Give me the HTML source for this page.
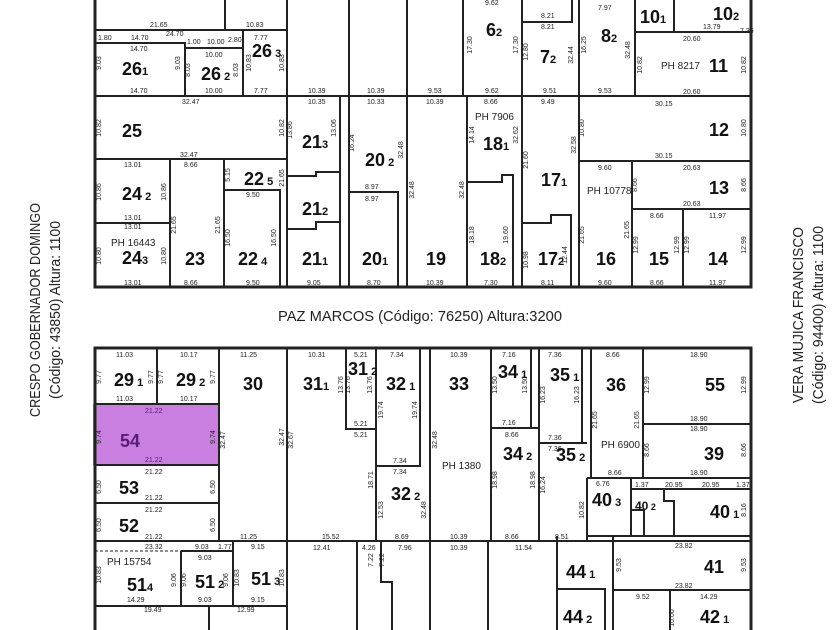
<!DOCTYPE html>
<html><head><meta charset="utf-8"><style>
html,body{margin:0;padding:0;background:#fff;}
svg{display:block;}
.b{font-family:"Liberation Sans",sans-serif;font-weight:bold;font-size:18px;fill:#111;}
.s{font-family:"Liberation Sans",sans-serif;font-size:7px;fill:#222;}
.v text{font-family:"Liberation Sans",sans-serif;font-size:7px;fill:#222;text-anchor:middle;}
.m{font-family:"Liberation Sans",sans-serif;font-size:10px;fill:#222;}
.st{font-family:"Liberation Sans",sans-serif;font-size:15px;fill:#222;}
</style></head><body>
<svg width="840" height="630" viewBox="0 0 840 630" xmlns="http://www.w3.org/2000/svg">
<rect x="93" y="404" width="126" height="61" fill="#c97fe0"/>
<g stroke="#222" stroke-width="2" fill="none">
<path d="M95 0 V287 H751 V0" stroke-width="3"/>
<path d="M95 30 H287 M225 0 V30 M95 96 H751"/>
<path d="M95 43 H185 V96 M185 48 H243 M243 30 V96"/>
<path d="M287 0 V287 M349 0 V287 M407 0 V287 M463 0 V97 M467 97 V287"/>
<path d="M95 159 H287 M170 159 V287 M95 223 H170 M224 159 V287 M224 190 H280 V287"/>
<path d="M287 176 H316 V172 H340 M287 229 H316 V222 H340 M340 96 V287"/>
<path d="M349 192 H398 V287"/>
<path d="M522 0 V287 M522 22 H572 V0 M579 0 V287 M635 0 V97 M674 0 V32 M635 32 H751"/>
<path d="M467 182 H502 V175 H513 V287"/>
<path d="M522 223 H551 V215 H571 V287"/>
<path d="M579 161 H751 M632 161 V287 M632 209 H751 M683 209 V287"/>
<path d="M95 630 V348 H751 V630" stroke-width="3"/>
<path d="M157 348 V404 M219 348 V541 M95 404 H219 M95 465 H219 M95 503 H219 M95 541 H751"/>
<path d="M287 348 V630 M346 348 V429 H376 M376 348 V541 M420 348 V466 H376 M430 348 V630"/>
<path d="M491 348 V541 M491 428 H539 M531 348 V428 M539 348 V541 M539 443 H587 M582 348 V443 M591 348 V478 M587 478 V541"/>
<path d="M643 348 V478 M643 424 H751 M587 478 H751 M631 489 H751 M631 478 V536 M587 536 H751"/>
<path d="M631 510 H644 V536 M664 489 V501 H674 V536"/>
<path d="M181 551 V606 M233 541 V606 M181 551 H233 M95 606 H287 M209 606 V630"/>
<path d="M357 541 V630 M381 541 V582 H392 V630 M488 541 V630 M557 536 V630 M557 589 H605 V630 M613 536 V630 M613 590 H751 M670 590 V630"/>
</g>
<path d="M95 551 H181" stroke="#222" stroke-width="1" stroke-dasharray="3,2"/>

<g class="b">
<text x="122" y="75">26<tspan font-size="11">1</tspan></text>
<text x="201" y="80">26<tspan font-size="11"> 2</tspan></text>
<text x="252" y="57">26<tspan font-size="11"> 3</tspan></text>
<text x="122" y="137">25</text>
<text x="122" y="200">24<tspan font-size="11"> 2</tspan></text>
<text x="122" y="264">24<tspan font-size="11">3</tspan></text>
<text x="185" y="265">23</text>
<text x="244" y="185">22<tspan font-size="11"> 5</tspan></text>
<text x="238" y="265">22<tspan font-size="11"> 4</tspan></text>
<text x="302" y="148">21<tspan font-size="11">3</tspan></text>
<text x="302" y="215">21<tspan font-size="11">2</tspan></text>
<text x="302" y="265">21<tspan font-size="11">1</tspan></text>
<text x="365" y="166">20<tspan font-size="11"> 2</tspan></text>
<text x="362" y="265">20<tspan font-size="11">1</tspan></text>
<text x="426" y="265">19</text>
<text x="486" y="36">6<tspan font-size="11">2</tspan></text>
<text x="540" y="63">7<tspan font-size="11">2</tspan></text>
<text x="601" y="42">8<tspan font-size="11">2</tspan></text>
<text x="640" y="23">10<tspan font-size="11">1</tspan></text>
<text x="713" y="20">10<tspan font-size="11">2</tspan></text>
<text x="709" y="72">11</text>
<text x="483" y="150">18<tspan font-size="11">1</tspan></text>
<text x="480" y="265">18<tspan font-size="11">2</tspan></text>
<text x="541" y="186">17<tspan font-size="11">1</tspan></text>
<text x="538" y="265">17<tspan font-size="11">2</tspan></text>
<text x="596" y="265">16</text>
<text x="709" y="136">12</text>
<text x="709" y="194">13</text>
<text x="649" y="265">15</text>
<text x="708" y="265">14</text>
<text x="114" y="386">29<tspan font-size="11"> 1</tspan></text>
<text x="176" y="386">29<tspan font-size="11"> 2</tspan></text>
<text x="243" y="390">30</text>
<text x="303" y="390">31<tspan font-size="11">1</tspan></text>
<text x="348" y="375">31<tspan font-size="11"> 2</tspan></text>
<text x="386" y="390">32<tspan font-size="11"> 1</tspan></text>
<text x="449" y="390">33</text>
<text x="120" y="447" fill="#5a1a75">54</text>
<text x="119" y="494">53</text>
<text x="119" y="532">52</text>
<text x="391" y="500">32<tspan font-size="11"> 2</tspan></text>
<text x="498" y="378">34<tspan font-size="11"> 1</tspan></text>
<text x="503" y="460">34<tspan font-size="11"> 2</tspan></text>
<text x="550" y="381">35<tspan font-size="11"> 1</tspan></text>
<text x="556" y="461">35<tspan font-size="11"> 2</tspan></text>
<text x="606" y="391">36</text>
<text x="705" y="391">55</text>
<text x="704" y="460">39</text>
<text x="592" y="506">40<tspan font-size="11"> 3</tspan></text>
<text x="635" y="510" font-size="12">40<tspan font-size="9"> 2</tspan></text>
<text x="710" y="518">40<tspan font-size="11"> 1</tspan></text>
<text x="704" y="573">41</text>
<text x="566" y="578">44<tspan font-size="11"> 1</tspan></text>
<text x="563" y="623">44<tspan font-size="11"> 2</tspan></text>
<text x="700" y="623">42<tspan font-size="11"> 1</tspan></text>
<text x="127" y="591">51<tspan font-size="11">4</tspan></text>
<text x="195" y="588">51<tspan font-size="11"> 2</tspan></text>
<text x="251" y="585">51<tspan font-size="11"> 3</tspan></text>
</g>
<g class="m">
<text x="111" y="246">PH 16443</text>
<text x="475" y="120">PH 7906</text>
<text x="661" y="69">PH 8217</text>
<text x="587" y="194">PH 10778</text>
<text x="442" y="469">PH 1380</text>
<text x="601" y="448">PH 6900</text>
<text x="107" y="565">PH 15754</text>
</g>
<g class="s">
<text x="150" y="27">21.65</text><text x="246" y="27">10.83</text>
<text x="98" y="40">1.80</text><text x="131" y="40">14.70</text><text x="166" y="36">24.70</text><text x="187" y="44">1.00</text><text x="207" y="44">10.00</text><text x="228" y="42">2.80</text><text x="254" y="40">7.77</text>
<text x="130" y="51">14.70</text><text x="205" y="57">10.00</text>
<text x="130" y="93">14.70</text><text x="205" y="93">10.00</text><text x="254" y="93">7.77</text>
<text x="308" y="93">10.39</text><text x="367" y="93">10.39</text><text x="428" y="93">9.53</text>
<text x="308" y="104">10.35</text><text x="367" y="104">10.33</text><text x="426" y="104">10.39</text>
<text x="182" y="104">32.47</text><text x="180" y="157">32.47</text>
<text x="124" y="167">13.01</text><text x="184" y="167">8.66</text><text x="124" y="220">13.01</text><text x="124" y="229">13.01</text>
<text x="124" y="285">13.01</text><text x="184" y="285">8.66</text><text x="246" y="197">9.50</text><text x="246" y="285">9.50</text>
<text x="307" y="285">9.05</text><text x="367" y="285">8.70</text><text x="426" y="285">10.39</text>
<text x="365" y="189">8.97</text><text x="365" y="201">8.97</text>
<text x="485" y="5">9.62</text><text x="485" y="93">9.62</text><text x="541" y="29">8.21</text><text x="541" y="18">8.21</text><text x="543" y="93">9.51</text><text x="598" y="93">9.53</text><text x="598" y="10">7.97</text>
<text x="683" y="41">20.60</text><text x="683" y="94">20.60</text><text x="703" y="29">13.79</text>
<text x="484" y="104">8.66</text><text x="541" y="104">9.49</text><text x="655" y="106">30.15</text><text x="655" y="158">30.15</text>
<text x="598" y="170">9.60</text><text x="683" y="170">20.63</text><text x="683" y="206">20.63</text>
<text x="650" y="218">8.66</text><text x="709" y="218">11.97</text>
<text x="484" y="285">7.30</text><text x="541" y="285">8.11</text><text x="598" y="285">9.60</text><text x="650" y="285">8.66</text><text x="709" y="285">11.97</text>
<text x="116" y="357">11.03</text><text x="180" y="357">10.17</text><text x="240" y="357">11.25</text><text x="308" y="357">10.31</text><text x="354" y="357">5.21</text><text x="390" y="357">7.34</text><text x="450" y="357">10.39</text>
<text x="116" y="401">11.03</text><text x="180" y="401">10.17</text>
<text x="145" y="413" fill="#5a1a75">21.22</text><text x="145" y="462" fill="#5a1a75">21.22</text>
<text x="145" y="474">21.22</text><text x="145" y="500">21.22</text><text x="145" y="512">21.22</text><text x="145" y="539">21.22</text>
<text x="240" y="539">11.25</text><text x="322" y="539">15.52</text><text x="395" y="539">8.69</text><text x="450" y="539">10.39</text>
<text x="354" y="426">5.21</text><text x="354" y="437">5.21</text><text x="393" y="463">7.34</text><text x="393" y="474">7.34</text>
<text x="502" y="357">7.16</text><text x="548" y="357">7.36</text><text x="606" y="357">8.66</text><text x="690" y="357">18.90</text>
<text x="502" y="425">7.16</text><text x="505" y="437">8.66</text><text x="548" y="440">7.36</text><text x="548" y="451">7.36</text>
<text x="690" y="421">18.90</text><text x="690" y="431">18.90</text><text x="690" y="475">18.90</text><text x="608" y="475">8.66</text>
<text x="505" y="539">8.66</text><text x="555" y="539">8.51</text>
<text x="313" y="550">12.41</text><text x="362" y="550">4.26</text><text x="398" y="550">7.96</text><text x="450" y="550">10.39</text><text x="515" y="550">11.54</text>
<text x="675" y="548">23.82</text><text x="675" y="588">23.82</text><text x="636" y="599">9.52</text><text x="700" y="599">14.29</text>
<text x="145" y="549">23.32</text><text x="195" y="549">9.03</text><text x="218" y="549">1.77</text><text x="251" y="549">9.15</text>
<text x="198" y="560">9.03</text><text x="127" y="602">14.29</text><text x="198" y="602">9.03</text><text x="251" y="602">9.15</text>
<text x="144" y="612">19.49</text><text x="237" y="612">12.99</text>
<text x="596" y="486">6.76</text><text x="635" y="487">1.37</text><text x="665" y="487">20.95</text><text x="702" y="487">20.95</text><text x="736" y="487">1.37</text>
<text x="740" y="33">7.36</text>
</g>
<g class="v">
<text transform="translate(101,63) rotate(-90)">9.03</text>
<text transform="translate(180,63) rotate(-90)">9.03</text>
<text transform="translate(190,70) rotate(-90)">8.03</text>
<text transform="translate(238,70) rotate(-90)">8.03</text>
<text transform="translate(251,63) rotate(-90)">10.83</text>
<text transform="translate(284,63) rotate(-90)">10.83</text>
<text transform="translate(101,128) rotate(-90)">10.82</text>
<text transform="translate(284,128) rotate(-90)">10.82</text>
<text transform="translate(101,192) rotate(-90)">10.86</text>
<text transform="translate(166,192) rotate(-90)">10.86</text>
<text transform="translate(101,256) rotate(-90)">10.80</text>
<text transform="translate(166,256) rotate(-90)">10.80</text>
<text transform="translate(176,225) rotate(-90)">21.65</text>
<text transform="translate(220,225) rotate(-90)">21.65</text>
<text transform="translate(230,175) rotate(-90)">5.15</text>
<text transform="translate(284,178) rotate(-90)">21.65</text>
<text transform="translate(230,238) rotate(-90)">16.50</text>
<text transform="translate(276,238) rotate(-90)">16.50</text>
<text transform="translate(292,130) rotate(-90)">13.86</text>
<text transform="translate(336,128) rotate(-90)">13.06</text>
<text transform="translate(354,143) rotate(-90)">16.24</text>
<text transform="translate(403,150) rotate(-90)">32.48</text>
<text transform="translate(414,190) rotate(-90)">32.48</text>
<text transform="translate(464,190) rotate(-90)">32.48</text>
<text transform="translate(472,45) rotate(-90)">17.30</text>
<text transform="translate(518,45) rotate(-90)">17.30</text>
<text transform="translate(474,135) rotate(-90)">14.14</text>
<text transform="translate(518,135) rotate(-90)">32.62</text>
<text transform="translate(474,235) rotate(-90)">18.18</text>
<text transform="translate(508,235) rotate(-90)">19.60</text>
<text transform="translate(528,160) rotate(-90)">21.60</text>
<text transform="translate(576,145) rotate(-90)">32.58</text>
<text transform="translate(528,52) rotate(-90)">12.80</text>
<text transform="translate(573,55) rotate(-90)">32.44</text>
<text transform="translate(586,45) rotate(-90)">16.25</text>
<text transform="translate(630,50) rotate(-90)">32.48</text>
<text transform="translate(642,65) rotate(-90)">10.82</text>
<text transform="translate(746,65) rotate(-90)">10.82</text>
<text transform="translate(584,128) rotate(-90)">10.80</text>
<text transform="translate(746,128) rotate(-90)">10.80</text>
<text transform="translate(584,235) rotate(-90)">21.65</text>
<text transform="translate(629,230) rotate(-90)">21.65</text>
<text transform="translate(637,185) rotate(-90)">8.66</text>
<text transform="translate(746,185) rotate(-90)">8.66</text>
<text transform="translate(638,245) rotate(-90)">12.99</text>
<text transform="translate(679,245) rotate(-90)">12.99</text>
<text transform="translate(689,245) rotate(-90)">12.99</text>
<text transform="translate(746,245) rotate(-90)">12.99</text>
<text transform="translate(528,260) rotate(-90)">10.98</text>
<text transform="translate(567,255) rotate(-90)">12.44</text>
<text transform="translate(101,377) rotate(-90)">9.77</text>
<text transform="translate(153,377) rotate(-90)">9.77</text>
<text transform="translate(163,377) rotate(-90)">9.77</text>
<text transform="translate(215,377) rotate(-90)">9.77</text>
<text transform="translate(101,437) rotate(-90)" fill="#5a1a75">9.74</text>
<text transform="translate(215,437) rotate(-90)" fill="#5a1a75">9.74</text>
<text transform="translate(101,487) rotate(-90)">6.50</text>
<text transform="translate(215,487) rotate(-90)">6.50</text>
<text transform="translate(101,525) rotate(-90)">6.50</text>
<text transform="translate(215,525) rotate(-90)">6.50</text>
<text transform="translate(225,440) rotate(-90)">32.47</text>
<text transform="translate(284,437) rotate(-90)">32.47</text>
<text transform="translate(293,440) rotate(-90)">32.67</text>
<text transform="translate(343,385) rotate(-90)">13.76</text>
<text transform="translate(350,385) rotate(-90)">13.76</text>
<text transform="translate(372,385) rotate(-90)">13.76</text>
<text transform="translate(383,410) rotate(-90)">19.74</text>
<text transform="translate(417,410) rotate(-90)">19.74</text>
<text transform="translate(437,440) rotate(-90)">32.48</text>
<text transform="translate(373,480) rotate(-90)">18.71</text>
<text transform="translate(383,510) rotate(-90)">12.53</text>
<text transform="translate(426,510) rotate(-90)">32.48</text>
<text transform="translate(497,385) rotate(-90)">13.50</text>
<text transform="translate(527,385) rotate(-90)">13.50</text>
<text transform="translate(497,480) rotate(-90)">18.98</text>
<text transform="translate(535,480) rotate(-90)">18.98</text>
<text transform="translate(545,395) rotate(-90)">16.23</text>
<text transform="translate(579,395) rotate(-90)">16.23</text>
<text transform="translate(597,420) rotate(-90)">21.65</text>
<text transform="translate(639,420) rotate(-90)">21.65</text>
<text transform="translate(649,385) rotate(-90)">12.99</text>
<text transform="translate(746,385) rotate(-90)">12.99</text>
<text transform="translate(649,450) rotate(-90)">8.66</text>
<text transform="translate(746,450) rotate(-90)">8.66</text>
<text transform="translate(545,485) rotate(-90)">16.24</text>
<text transform="translate(584,510) rotate(-90)">10.82</text>
<text transform="translate(746,510) rotate(-90)">8.16</text>
<text transform="translate(621,565) rotate(-90)">9.53</text>
<text transform="translate(746,565) rotate(-90)">9.53</text>
<text transform="translate(101,575) rotate(-90)">10.83</text>
<text transform="translate(176,580) rotate(-90)">9.06</text>
<text transform="translate(186,580) rotate(-90)">9.06</text>
<text transform="translate(228,580) rotate(-90)">9.06</text>
<text transform="translate(239,578) rotate(-90)">10.83</text>
<text transform="translate(284,578) rotate(-90)">10.83</text>
<text transform="translate(674,618) rotate(-90)">10.00</text>
<text transform="translate(373,560) rotate(-90)">7.22</text>
<text transform="translate(384,560) rotate(-90)">7.22</text>
</g>
<text class="st" x="420" y="321" text-anchor="middle" textLength="284" lengthAdjust="spacingAndGlyphs">PAZ MARCOS (Código: 76250) Altura:3200</text>
<text class="st" transform="translate(40,310) rotate(-90)" text-anchor="middle" textLength="214" lengthAdjust="spacingAndGlyphs">CRESPO GOBERNADOR DOMINGO</text>
<text class="st" transform="translate(60,310) rotate(-90)" text-anchor="middle" textLength="178" lengthAdjust="spacingAndGlyphs">(Código: 43850) Altura: 1100</text>
<text class="st" transform="translate(803,315) rotate(-90)" text-anchor="middle" textLength="176" lengthAdjust="spacingAndGlyphs">VERA MUJICA FRANCISCO</text>
<text class="st" transform="translate(823,315) rotate(-90)" text-anchor="middle" textLength="178" lengthAdjust="spacingAndGlyphs">(Código: 94400) Altura: 1100</text>
</svg>
</body></html>
